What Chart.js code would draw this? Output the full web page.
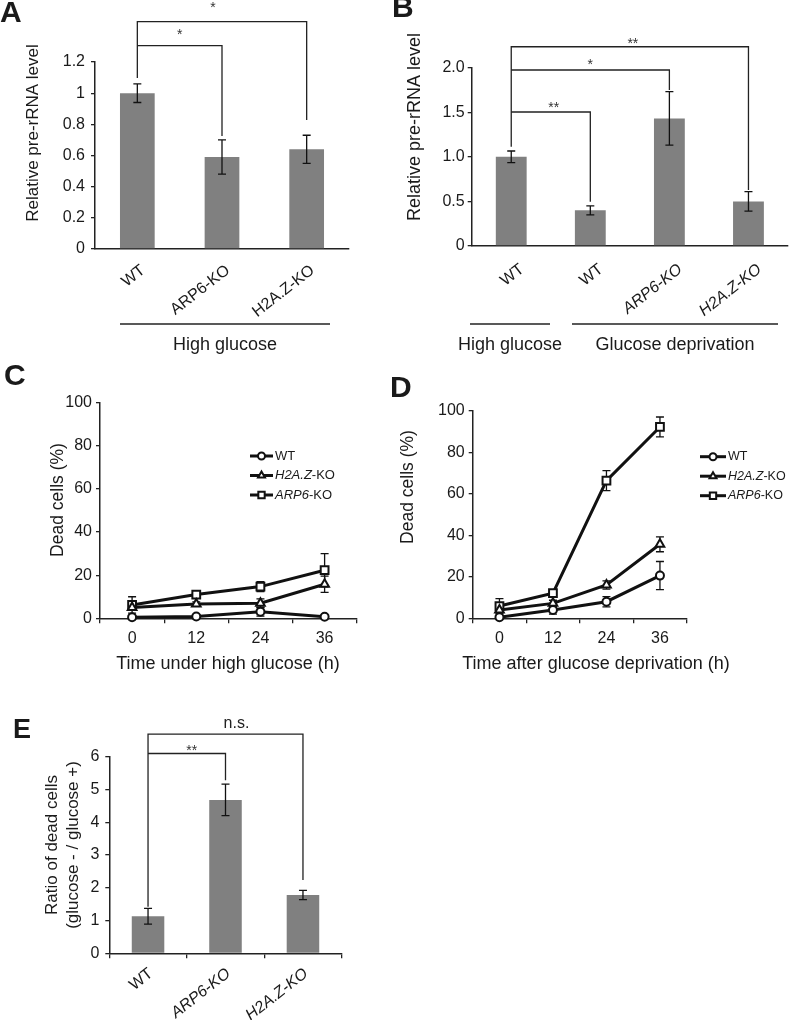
<!DOCTYPE html>
<html><head><meta charset="utf-8">
<script src="https://cdn.jsdelivr.net/npm/chart.js@4.4.1/dist/chart.umd.min.js"></script>
<style>
body{margin:0;background:#fff;}
#wrap{position:relative;width:790px;height:1020px;overflow:hidden;background:#fff;}
canvas{position:absolute;}
</style>
</head><body><div id="wrap">
<canvas id="cA" width="385" height="360" style="left:0;top:0"></canvas>
<canvas id="cB" width="400" height="360" style="left:390px;top:0"></canvas>
<canvas id="cC" width="390" height="330" style="left:0;top:355px"></canvas>
<canvas id="cD" width="400" height="330" style="left:390px;top:355px"></canvas>
<canvas id="cE" width="380" height="340" style="left:0;top:680px"></canvas>
</div>
<script>
// ---------------- DATA ----------------
const catsA = ['WT', 'ARP6-KO', 'H2A.Z-KO'];
const valsA = [1.0, 0.59, 0.64];
const errA  = [0.06, 0.11, 0.09];
const yTicksA = ['0', '0.2', '0.4', '0.6', '0.8', '1', '1.2'];

const catsB = ['WT', 'WT', 'ARP6-KO', 'H2A.Z-KO'];
const valsB = [1.0, 0.40, 1.43, 0.50];
const errB  = [0.065, 0.05, 0.30, 0.11];
const yTicksB = ['0', '0.5', '1.0', '1.5', '2.0'];

const timesCD = ['0', '12', '24', '36'];
const deadC_WT   = [0.5, 0.8, 3.0, 0.7];
const deadC_H2AZ = [5.0, 6.6, 7.0, 15.8];
const deadC_ARP6 = [6.2, 11.0, 14.7, 22.3];
const errC_WT   = [0.5, 0.5, 2.0, 0.4];
const errC_H2AZ = [1.0, 1.0, 2.0, 3.8];
const errC_ARP6 = [3.8, 1.5, 2.3, 7.7];

const deadD_WT   = [0.5, 4.0, 8.0, 20.6];
const deadD_H2AZ = [4.0, 7.2, 16.1, 35.7];
const deadD_ARP6 = [5.9, 12.1, 66.4, 92.3];
const errD_WT   = [0.5, 2.0, 2.5, 6.8];
const errD_H2AZ = [1.0, 1.5, 2.0, 3.6];
const errD_ARP6 = [3.6, 1.5, 4.8, 4.8];
const yTicksCD = ['0', '20', '40', '60', '80', '100'];
const seriesNames = ['WT', 'H2A.Z-KO', 'ARP6-KO'];

const catsE = ['WT', 'ARP6-KO', 'H2A.Z-KO'];
const valsE = [1.13, 4.68, 1.78];
const errE  = [0.24, 0.48, 0.14];
const yTicksE = ['0', '1', '2', '3', '4', '5', '6'];

// ---------------- HELPERS ----------------
const FF = '"Liberation Sans", Arial, Helvetica, sans-serif';
const TXT = '#1a1a1a';
Chart.defaults.font.family = FF;

function drawErr(chart, o) {
  const ctx = chart.ctx, ys = chart.scales.y;
  ctx.save();
  ctx.strokeStyle = '#111';
  ctx.lineWidth = o.errWidth || 1.3;
  chart.data.datasets.forEach((ds, i) => {
    if (!ds.errors) return;
    const meta = chart.getDatasetMeta(i);
    ds.data.forEach((v, j) => {
      const e = ds.errors[j];
      const x = meta.data[j].x;
      const yh = ys.getPixelForValue(v + e), yl = ys.getPixelForValue(Math.max(v - e, 0));
      const c = o.cap || 3.5;
      ctx.beginPath();
      ctx.moveTo(x, yh); ctx.lineTo(x, yl);
      ctx.moveTo(x - c, yh); ctx.lineTo(x + c, yh);
      ctx.moveTo(x - c, yl); ctx.lineTo(x + c, yl);
      ctx.stroke();
    });
  });
  ctx.restore();
}

function drawMixed(ctx, lab, x, y, size, align) {
  const k = lab.indexOf('-KO');
  ctx.textBaseline = 'middle';
  ctx.textAlign = 'left';
  if (k > 0) {
    const a = lab.slice(0, k), b = lab.slice(k);
    ctx.font = 'italic ' + size + 'px ' + FF;
    const wa = ctx.measureText(a).width;
    ctx.font = size + 'px ' + FF;
    const wb = ctx.measureText(b).width;
    let sx = align === 'center' ? x - (wa + wb) / 2 : x;
    ctx.font = 'italic ' + size + 'px ' + FF;
    ctx.fillText(a, sx, y);
    ctx.font = size + 'px ' + FF;
    ctx.fillText(b, sx + wa, y);
  } else {
    ctx.font = size + 'px ' + FF;
    const w = ctx.measureText(lab).width;
    ctx.fillText(lab, align === 'center' ? x - w / 2 : x, y);
  }
}

const extras = {
  id: 'extras',
  beforeDatasetsDraw(chart, a, o) { if (o.errorsBehind) drawErr(chart, o); },
  afterDatasetsDraw(chart, a, o) { if (!o.errorsBehind) drawErr(chart, o); },
  afterDraw(chart, a, o) {
    const ctx = chart.ctx, xs = chart.scales.x, ys = chart.scales.y;
    ctx.save();
    ctx.fillStyle = TXT;
    if (o.letter) {
      ctx.font = 'bold ' + (o.letter.size || 30) + 'px ' + FF;
      ctx.textAlign = 'left'; ctx.textBaseline = 'alphabetic';
      ctx.fillText(o.letter.t, o.letter.x, o.letter.y);
    }
    (o.texts || []).forEach(t => {
      ctx.save();
      ctx.translate(t.x, t.y);
      if (t.rot) ctx.rotate(t.rot * Math.PI / 180);
      ctx.fillStyle = TXT;
      drawMixed(ctx, t.t, 0, 0, t.size, 'center');
      ctx.restore();
    });
    ctx.strokeStyle = '#222';
    ctx.lineWidth = 1.3;
    (o.brackets || []).forEach(b => {
      const x1 = xs.getPixelForValue(b.a), x2 = xs.getPixelForValue(b.b), yT = ys.getPixelForValue(b.y);
      ctx.beginPath();
      ctx.moveTo(x1, ys.getPixelForValue(b.ya));
      ctx.lineTo(x1, yT); ctx.lineTo(x2, yT);
      ctx.lineTo(x2, ys.getPixelForValue(b.yb));
      ctx.stroke();
      ctx.font = (b.size || 14) + 'px ' + FF;
      ctx.textAlign = 'center'; ctx.textBaseline = 'middle';
      ctx.fillStyle = b.color || '#333';
      ctx.fillText(b.label, (x1 + x2) / 2 + (b.dx || 0), yT - b.dy);
    });
    (o.groups || []).forEach(g => {
      ctx.beginPath(); ctx.moveTo(g.x1, g.y); ctx.lineTo(g.x2, g.y); ctx.stroke();
    });
    if (o.legend) {
      const L = o.legend;
      chart.data.datasets.forEach((ds, i) => {
        const y = L.y + i * L.dy;
        ctx.strokeStyle = '#111'; ctx.lineWidth = 3;
        ctx.beginPath(); ctx.moveTo(L.x, y); ctx.lineTo(L.x + L.w, y); ctx.stroke();
        ctx.fillStyle = '#fff'; ctx.strokeStyle = '#111'; ctx.lineWidth = 2;
        Chart.helpers.drawPoint(ctx, {pointStyle: ds.pointStyle, radius: ds.legendRadius, rotation: 0, borderWidth: 2}, L.x + L.w / 2, y);
        ctx.fillStyle = TXT;
        drawMixed(ctx, ds.label, L.x + L.w + 2, y, L.size, 'left');
      });
    }
    ctx.restore();
  }
};

function yScale(box, max, step, labels, tickPad) {
  return {
    min: 0, max: max,
    ticks: {stepSize: step, callback: v => labels[Math.round(v / step)], color: TXT, font: {family: FF, size: 16}, padding: tickPad},
    grid: {display: true, drawOnChartArea: false, drawTicks: true, tickLength: 4, color: '#222', lineWidth: 1.3},
    border: {display: true, color: '#222', width: 1.5},
    afterFit: s => { s.width = box.L; }
  };
}

function barChart(id, cats, vals, errs, yMax, yStep, yTicks, box, ex, italicIdx, barFrac, xTickMarks, yPad, xPad, xOff) {
  return new Chart(document.getElementById(id), {
    type: 'bar',
    data: {labels: cats, datasets: [{data: vals, errors: errs, backgroundColor: '#808080', borderWidth: 0, barPercentage: barFrac, categoryPercentage: 1}]},
    options: {
      responsive: false, animation: false, devicePixelRatio: 1,
      layout: {padding: {left: 0, top: box.T, right: box.R, bottom: 0}},
      plugins: {legend: {display: false}, tooltip: {enabled: false}, extras: ex},
      scales: {
        x: {
          offset: true,
          grid: {display: true, drawOnChartArea: false, drawTicks: xTickMarks, tickLength: 5, color: '#222', lineWidth: 1.3, offset: true},
          border: {display: true, color: '#222', width: 1.5},
          ticks: {autoSkip: false, minRotation: 38, maxRotation: 38, padding: xPad, labelOffset: xOff, color: TXT,
                  font: c => ({family: FF, size: 16, style: italicIdx.includes(c.index) ? 'italic' : 'normal'})},
          afterFit: s => { s.height = box.B; }
        },
        y: yScale(box, yMax, yStep, yTicks, yPad)
      }
    },
    plugins: [extras]
  });
}

function lineChart(id, w, h, a, errs, box, ex) {
  const styles = ['circle', 'triangle', 'rect'];
  const radii = [4, 5, 5.5];
  const lradii = [3.5, 4, 4.5];
  return new Chart(document.getElementById(id), {
    type: 'line',
    data: {
      labels: timesCD,
      datasets: [w, h, a].map((d, i) => ({
        label: seriesNames[i], data: d, errors: errs[i],
        borderColor: '#111', borderWidth: 3, backgroundColor: '#fff',
        pointStyle: styles[i], pointRadius: radii[i], pointBorderWidth: 2,
        pointBackgroundColor: '#fff', pointBorderColor: '#111',
        legendRadius: lradii[i], tension: 0, clip: false
      }))
    },
    options: {
      responsive: false, animation: false, devicePixelRatio: 1,
      layout: {padding: {left: 0, top: box.T, right: box.R, bottom: 0}},
      plugins: {legend: {display: false}, tooltip: {enabled: false}, extras: ex},
      scales: {
        x: {
          offset: true,
          grid: {display: true, drawOnChartArea: false, drawTicks: true, tickLength: 5, color: '#222', lineWidth: 1.3, offset: true},
          border: {display: true, color: '#222', width: 1.5},
          ticks: {autoSkip: false, minRotation: 0, maxRotation: 0, padding: 6, color: TXT, font: {family: FF, size: 16}},
          afterFit: s => { s.height = box.B; }
        },
        y: yScale(box, 100, 20, yTicksCD, 4)
      }
    },
    plugins: [extras]
  });
}

// ---------------- PANEL A ----------------
barChart('cA', catsA, valsA, errA, 1.2, 0.2, yTicksA, {L: 95, T: 62, R: 36, B: 111}, {
  letter: {t: 'A', x: 0, y: 22},
  texts: [
    {t: 'Relative pre-rRNA level', x: 33, y: 133, size: 17, rot: -90},
    {t: 'High glucose', x: 225, y: 345, size: 18}
  ],
  brackets: [
    {a: 0, b: 2, y: 1.459, ya: 1.097, yb: 0.828, label: '*', dy: 13, dx: -9},
    {a: 0, b: 1, y: 1.305, ya: 1.305, yb: 0.725, label: '*', dy: 10}
  ],
  groups: [{x1: 120, x2: 330, y: 324}],
  cap: 4
}, [], 0.41, false, 6, 12, 6);

// ---------------- PANEL B ----------------
barChart('cB', catsB, valsB, errB, 2.0, 0.5, yTicksB, {L: 81.7, T: 67.6, R: 2, B: 114}, {
  letter: {t: 'B', x: 2, y: 17},
  texts: [
    {t: 'Relative pre-rRNA level', x: 25, y: 127, size: 18, rot: -90},
    {t: 'High glucose', x: 120, y: 345, size: 18},
    {t: 'Glucose deprivation', x: 285, y: 345, size: 18}
  ],
  brackets: [
    {a: 0, b: 3, y: 2.234, ya: 1.113, yb: 0.628, label: '**', dy: 3, dx: 3},
    {a: 0, b: 2, y: 1.973, ya: 1.973, yb: 1.749, label: '*', dy: 5},
    {a: 0, b: 1, y: 1.502, ya: 1.502, yb: 0.497, label: '**', dy: 4, dx: 3}
  ],
  groups: [{x1: 80, x2: 160, y: 324}, {x1: 182, x2: 388, y: 324}],
  cap: 4
}, [2, 3], 0.39, false, 3, 14, 11);

// ---------------- PANEL C ----------------
lineChart('cC', deadC_WT, deadC_H2AZ, deadC_ARP6, [errC_WT, errC_H2AZ, errC_ARP6], {L: 100, T: 47.7, R: 33.3, B: 66.7}, {
  letter: {t: 'C', x: 4, y: 30},
  texts: [
    {t: 'Dead cells (%)', x: 58, y: 145, size: 17.5, rot: -90},
    {t: 'Time under high glucose (h)', x: 228, y: 309, size: 18}
  ],
  legend: {x: 250, y: 101, dy: 19.5, w: 23, size: 13},
  errorsBehind: true, cap: 4
});

// ---------------- PANEL D ----------------
lineChart('cD', deadD_WT, deadD_H2AZ, deadD_ARP6, [errD_WT, errD_H2AZ, errD_ARP6], {L: 82.7, T: 56, R: 103.3, B: 66.7}, {
  letter: {t: 'D', x: 0, y: 42},
  texts: [
    {t: 'Dead cells (%)', x: 18, y: 132, size: 17.5, rot: -90},
    {t: 'Time after glucose deprivation (h)', x: 206, y: 309, size: 18}
  ],
  legend: {x: 310, y: 101.7, dy: 19.5, w: 26, size: 12.5},
  errorsBehind: true, cap: 4
});

// ---------------- PANEL E ----------------
barChart('cE', catsE, valsE, errE, 6, 1, yTicksE, {L: 109.3, T: 76.7, R: 38.3, B: 66.7}, {
  letter: {t: 'E', x: 13, y: 58, size: 27},
  texts: [
    {t: 'Ratio of dead cells', x: 52, y: 165, size: 17, rot: -90},
    {t: '(glucose - / glucose +)', x: 73, y: 165, size: 17, rot: -90}
  ],
  brackets: [
    {a: 0, b: 2, y: 6.686, ya: 1.42, yb: 2.235, label: 'n.s.', dy: 11, dx: 11, size: 16, color: '#222'},
    {a: 0, b: 1, y: 6.098, ya: 6.098, yb: 5.284, label: '**', dy: 2, dx: 5}
  ],
  cap: 4
}, [1, 2], 0.42, true, 6, 6, 3);
</script>
</body></html>
